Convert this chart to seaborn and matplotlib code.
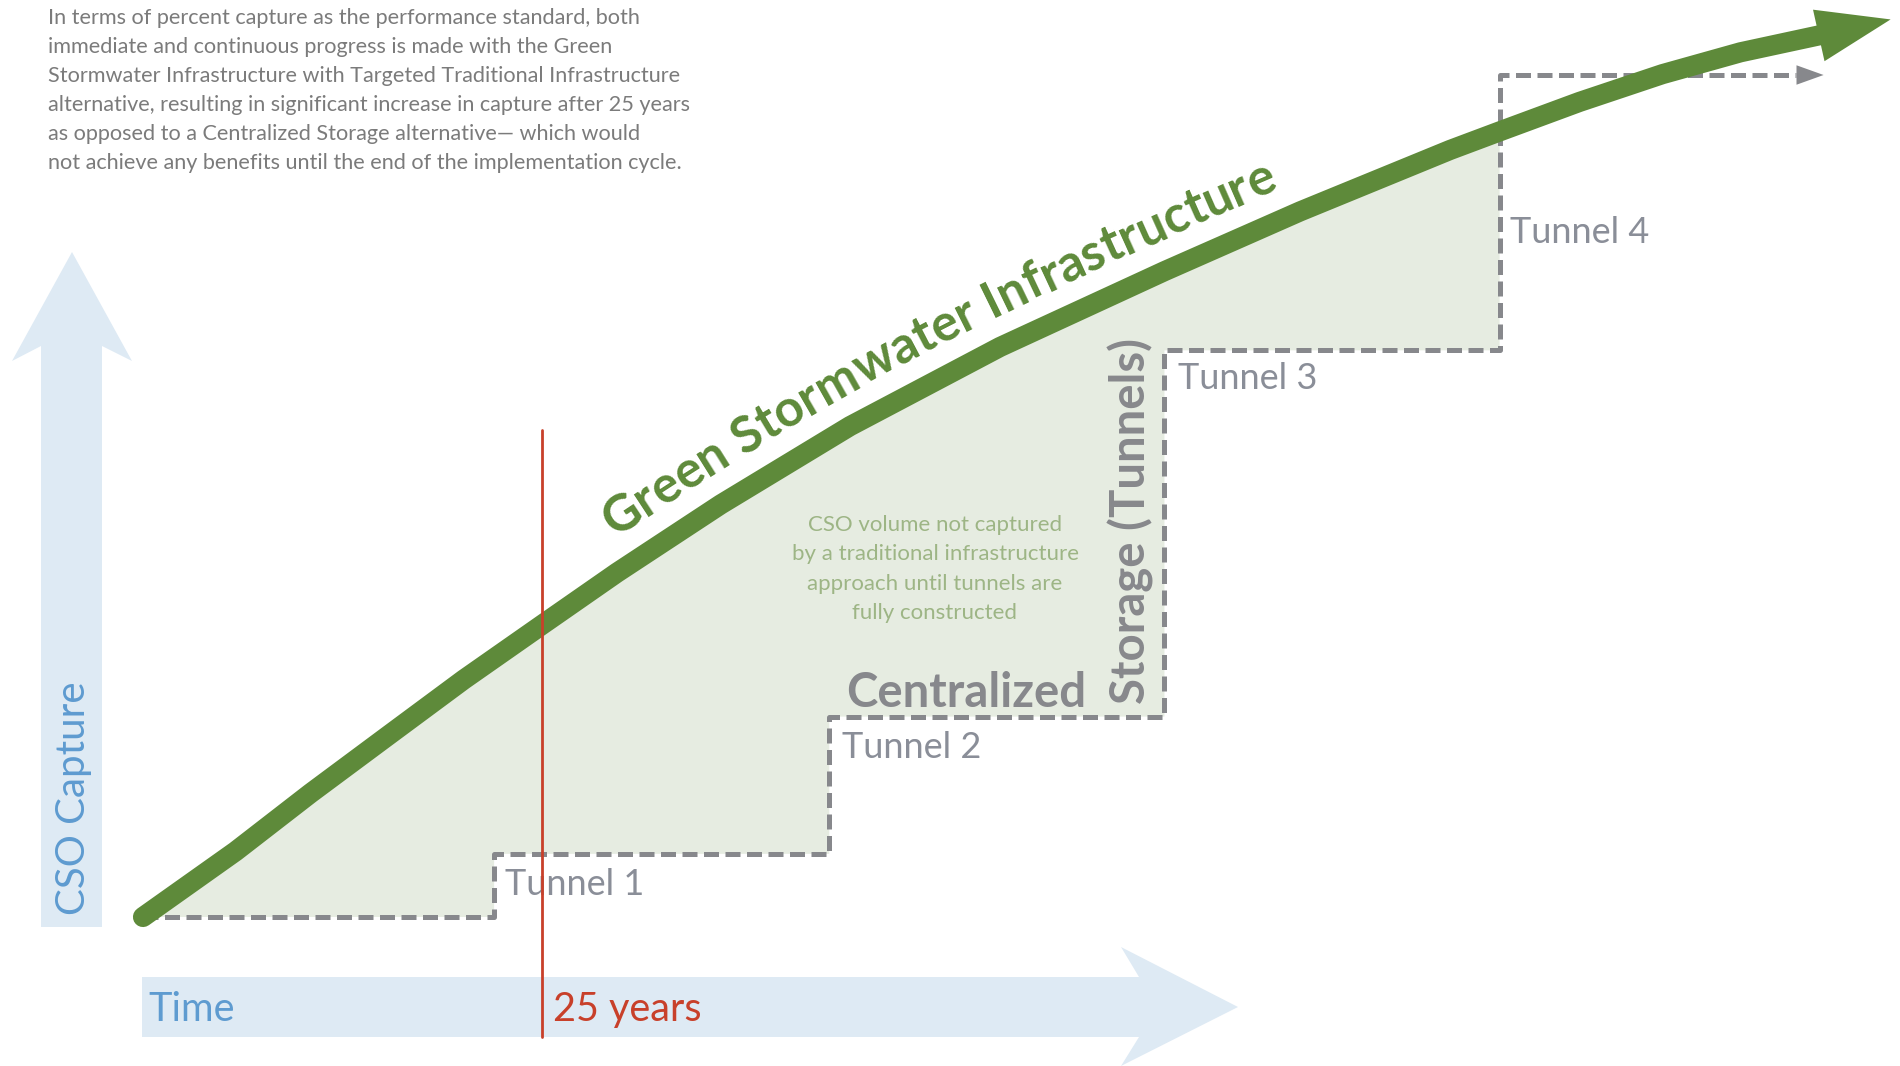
import numpy as np
import matplotlib
matplotlib.use("Agg")
import matplotlib.pyplot as plt
import matplotlib.transforms as mtransforms
from matplotlib.patches import Polygon, FancyArrowPatch, ArrowStyle
from matplotlib.font_manager import FontProperties
import seaborn as sns

W, H = 1900, 1066

# Green Stormwater Infrastructure curve (years, % capture), last point = arrow tip
gsi_years = [0, 5.8, 10.5, 15.4, 20.1, 25.0, 29.7, 36.2, 44.3, 53.7, 64.0, 72.5, 81.9,
             85.0, 90.0, 95.2, 100.1, 105.0, 109.5]
gsi_capture = [0, 7.8, 14.7, 21.6, 28.2, 34.7, 40.9, 49.0, 58.3, 67.7, 76.7, 83.8, 91.1,
               93.3, 96.8, 100.1, 102.7, 104.7, 106.6]

# Centralized storage: capture only steps up when a tunnel is finished
tunnel_names = ["Tunnel 1", "Tunnel 2", "Tunnel 3", "Tunnel 4"]
tunnel_years = [22, 43, 64, 85]
tunnel_capture = [7.5, 23.8, 67.3, 100]
storage_end_year = 105.3

milestone_year = 25

intro_lines = [
    "In terms of percent capture as the performance standard, both",
    "immediate and continuous progress is made with the Green",
    "Stormwater Infrastructure with Targeted Traditional Infrastructure",
    "alternative, resulting in significant increase in capture after 25 years",
    "as opposed to a Centralized Storage alternative\u2014 which would",
    "not achieve any benefits until the end of the implementation cycle.",
]
gap_lines = [
    "CSO volume not captured",
    "by a traditional infrastructure",
    "approach until tunnels are",
    "fully constructed",
]

GREEN = "#5e8a3a"
GREY = "#87888c"
FILL = "#e6ece1"
BLUE_BG = "#deeaf4"
BLUE_TXT = "#5e9bd0"
RED = "#c8402a"
TUN_TXT = "#8a8e98"

# pixel layout of the data frame
X0, PX_YEAR = 143, 399 / 25
Y0, PX_PCT = 917, 8.42

sns.set_theme(style="white")
plt.rcParams["font.family"] = ["Lato", "DejaVu Sans"]

fig = plt.figure(figsize=(W / 100, H / 100), dpi=100)
ax = fig.add_axes([0, 0, 1, 1])
pix = mtransforms.Affine2D().scale(1 / W, -1 / H).translate(0, 1) + fig.transFigure

# background axis arrows
time_arrow = [(142, 977), (1139, 977), (1121, 947), (1238, 1007), (1121, 1066), (1139, 1037), (142, 1037)]
cap_arrow = [(41, 927), (41, 346), (12, 361), (72, 252), (132, 361), (102, 346), (102, 927)]
for shape in (time_arrow, cap_arrow):
    ax.add_patch(Polygon(shape, closed=True, facecolor=BLUE_BG, edgecolor="none",
                         transform=pix, zorder=0))

# shaded gap between the two approaches
prev_level = [0] + tunnel_capture[:-1]
gx = [x for x in gsi_years if x <= tunnel_years[-1]]
gy = gsi_capture[:len(gx)]
corner_x, corner_y = [], []
for i in range(len(tunnel_years) - 1, -1, -1):
    corner_x += [tunnel_years[i], tunnel_years[i - 1] if i > 0 else 0]
    corner_y += [prev_level[i], prev_level[i]]
ax.fill(gx + corner_x, gy + corner_y, color=FILL, lw=0, zorder=1)

# centralized storage steps
step_x = [0] + tunnel_years + [storage_end_year - 1.7]
step_y = [0] + tunnel_capture + [tunnel_capture[-1]]
sns.lineplot(x=step_x, y=step_y, ax=ax, color=GREY, lw=3.6, drawstyle="steps-post",
             linestyle=(0, (3.0, 1.3)), dash_capstyle="butt", zorder=2)
ax.add_patch(FancyArrowPatch((storage_end_year - 1.7, tunnel_capture[-1]),
                             (storage_end_year, tunnel_capture[-1]),
                             arrowstyle=ArrowStyle("-|>", head_length=19.5, head_width=7),
                             mutation_scale=1, shrinkA=0, shrinkB=0, lw=0,
                             color=GREY, zorder=2))

# green curve + arrow head
sns.lineplot(x=gsi_years[:-1], y=gsi_capture[:-1], ax=ax, color=GREEN, lw=14.5,
             solid_capstyle="round", solid_joinstyle="round", sort=False, zorder=3)
ax.add_patch(FancyArrowPatch((gsi_years[-2], gsi_capture[-2]), (gsi_years[-1], gsi_capture[-1]),
                             arrowstyle=ArrowStyle("-|>", head_length=53, head_width=19),
                             mutation_scale=1, shrinkA=0, shrinkB=0, lw=0,
                             color=GREEN, zorder=3))

# 25-year marker
ax.axvline(milestone_year, ymin=1 - 1037 / H, ymax=1 - 430 / H, color=RED, lw=2.0, zorder=5)

ax.set_xlim(-X0 / PX_YEAR, (W - X0) / PX_YEAR)
ax.set_ylim((Y0 - H) / PX_PCT, Y0 / PX_PCT)
ax.axis("off")

# tunnel labels
label_offsets = [(11, -41), (13, -41), (14, -39), (10, -168)]
for name, yr, cap, off in zip(tunnel_names, tunnel_years, tunnel_capture, label_offsets):
    ax.annotate(name, (yr, cap), xytext=off, textcoords="offset pixels",
                fontsize=26, color=TUN_TXT, ha="left", va="baseline", zorder=4)

ax.text(846, 707, "Centralized", transform=pix, fontsize=34, fontweight="bold",
        color=GREY, ha="left", va="baseline", zorder=4)
ax.text(1145, 704, "Storage (Tunnels)", transform=pix, fontsize=34, fontweight="bold",
        color=GREY, rotation=90, rotation_mode="anchor", ha="left", va="baseline", zorder=4)

for i, line in enumerate(gap_lines):
    ax.text(935, 531 + 29.3 * i, line, transform=pix, fontsize=16, color="#9db585",
            ha="center", va="baseline", zorder=4)

for i, line in enumerate(intro_lines):
    ax.text(48, 24 + 29 * i, line, transform=pix, fontsize=15.6, color="#7b7b7b",
            ha="left", va="baseline")

ax.text(85, 915, "CSO Capture", transform=pix, fontsize=29, color=BLUE_TXT,
        rotation=90, rotation_mode="anchor", ha="left", va="baseline")
ax.text(148, 1021, "Time", transform=pix, fontsize=28.5, color=BLUE_TXT, ha="left", va="baseline")
ax.text(553, 1021, "25 years", transform=pix, fontsize=28.5, color=RED, ha="left", va="baseline")

# curve label laid out letter by letter along the green line
fig.canvas.draw()
renderer = fig.canvas.get_renderer()
fp = FontProperties(family="Lato", weight="bold", size=36.5)
label = "Green Stormwater Infrastructure"
pts = ax.transData.transform(np.column_stack([gsi_years, gsi_capture]))
seg = np.diff(pts, axis=0)
cum = np.concatenate([[0], np.cumsum(np.hypot(seg[:, 0], seg[:, 1]))])
seg_ang = np.unwrap(np.arctan2(seg[:, 1], seg[:, 0]))
seg_mid = (cum[:-1] + cum[1:]) / 2


def ink_width(s):
    return renderer.get_text_width_height_descent(s, fp, ismath=False)[0]


start_arc, offset = 604, 30
for i, ch in enumerate(label):
    if ch == " ":
        continue
    s = start_arc + ink_width(label[:i + 1]) - ink_width(ch) / 2
    px_ = np.interp(s, cum, pts[:, 0])
    py_ = np.interp(s, cum, pts[:, 1])
    ang = np.interp(s, seg_mid, seg_ang)
    tx = px_ - np.sin(ang) * offset
    ty = py_ + np.cos(ang) * offset
    ax.text(tx, ty, ch, transform=mtransforms.IdentityTransform(), fontproperties=fp,
            color=GREEN, rotation=np.degrees(ang), rotation_mode="anchor",
            ha="center", va="baseline", zorder=4)

fig.savefig("out.png", dpi=100, facecolor="white")
